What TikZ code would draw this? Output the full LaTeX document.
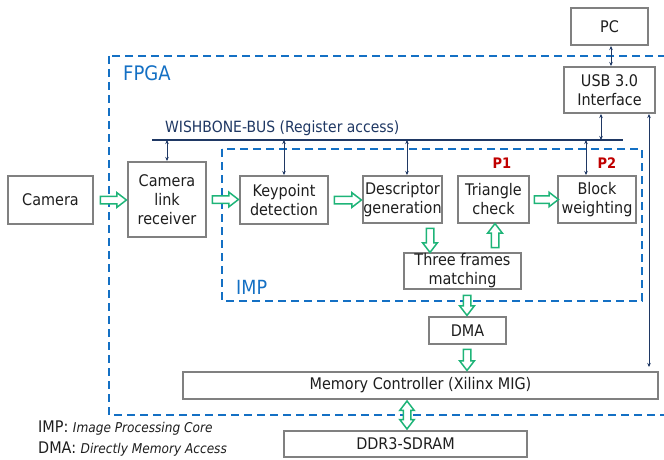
\documentclass[tikz,border=0pt]{standalone}
\usepackage{fontspec}
\setmainfont{DejaVu Sans}[FakeStretch=0.9]
\usetikzlibrary{calc,shapes.arrows,arrows.meta}
\definecolor{boxgray}{RGB}{128,128,128}
\definecolor{navy}{RGB}{31,56,100}
\definecolor{fblue}{RGB}{20,112,196}
\definecolor{agreen}{RGB}{30,180,120}
\definecolor{pred}{RGB}{192,0,0}
\definecolor{txt}{RGB}{30,30,30}
\newcommand\blockarrow[3][single arrow]{%
  \path let \p1=(#2), \p2=(#3), \n1={veclen(\x2-\x1,\y2-\y1)}, \n2={atan2(\y2-\y1,\x2-\x1)} in
    node[barr, #1, minimum height=\n1, rotate=\n2] at ($(\p1)!0.5!(\p2)$) {};}
\begin{document}
\begin{tikzpicture}[x=1pt,y=-1pt,
  box/.style={draw=boxgray, line width=2pt, fill=white, inner sep=0pt, align=center, text=txt,
    font=\fontsize{16}{19}\selectfont},
  barr/.style={draw=agreen, fill=white, line width=1.5pt, inner xsep=0pt, inner ysep=3pt, outer sep=0pt,
    single arrow head extend=3.5pt, single arrow tip angle=75,
    double arrow head extend=3.5pt, double arrow tip angle=75},
  thin/.style={draw=navy, line width=0.8pt, {Stealth[length=4pt,width=3.5pt]}-{Stealth[length=4pt,width=3.5pt]}},
  region/.style={draw=fblue, line width=2pt, dash pattern=on 8pt off 5pt},
  regionlabel/.style={text=fblue, anchor=west, inner sep=0pt, font=\fontsize{20}{24}\selectfont},
  plabel/.style={text=pred, inner sep=0pt, font=\fontsize{14.5}{17}\selectfont\bfseries},
  legend/.style={anchor=west, inner sep=0pt, text=txt, font=\fontsize{16}{19}\selectfont}
]
\useasboundingbox (0,0) rectangle (664,460);
% regions
\draw[region] (109,56) rectangle (672,415);
\draw[region] (222,149) rectangle (642,301);
\node[regionlabel] (fpgalbl) at (123,73) {FPGA};
\node[regionlabel, font=\fontsize{19.5}{22}\selectfont] (implbl) at (236,287) {IMP};
% bus
\coordinate (bus) at (152,140);
\coordinate (busE) at (623,140);
\draw[navy, line width=2.5pt] (bus) -- (busE);
\node[anchor=west, inner sep=0pt, text=navy, font=\fontsize{15.5}{18}\selectfont] (buslbl) at (165,128) {WISHBONE-BUS (Register access)};
% boxes
\node[box, minimum width=77pt, minimum height=37pt] (pc) at (609.5,26.5) {PC};
\node[box, minimum width=91pt, minimum height=46pt] (usb) at (609.5,90) {USB 3.0\\Interface};
\node[box, minimum width=85pt, minimum height=48pt] (cam) at (50.5,200) {Camera};
\node[box, minimum width=78pt, minimum height=75pt] (cl) at (167,199.5) {Camera\\link\\receiver};
\node[box, minimum width=88pt, minimum height=48pt] (kp) at (284,200) {Keypoint\\detection};
\node[box, minimum width=79pt, minimum height=47pt] (desc) at (402.5,199.5) {Descriptor\\generation};
\node[box, minimum width=71pt, minimum height=47pt] (tri) at (493.5,199.5) {Triangle\\check};
\node[box, minimum width=78pt, minimum height=47pt] (blk) at (597,199.5) {Block\\weighting};
\node[box, minimum width=117pt, minimum height=36pt] (tfm) at (462.5,271) {Three frames\\matching};
\node[box, minimum width=77pt, minimum height=27pt] (dma) at (467.5,330.5) {DMA};
\node[box, minimum width=475pt, minimum height=27pt] (mem) at (420.5,385.5) {Memory Controller (Xilinx MIG)};
\node[box, minimum width=243pt, minimum height=26pt] (ddr) at (405.5,444) {DDR3-SDRAM};
% P labels
\node[plabel] (p1) at (502,163) {P1};
\node[plabel] (p2) at (607,163) {P2};
% thin arrows
\draw[thin] ($(pc.south)+(1.5,0)$) -- ($(usb.north)+(1.5,0)$);
\draw[thin] ($(usb.south)+(-8.5,0)$) -- ($(usb.south |- bus)+(-8.5,0)$);
\draw[thin] ($(blk.north |- bus)+(-11,0)$) -- ($(blk.north)+(-11,0)$);
\draw[thin] ($(desc.north |- bus)+(4.5,0)$) -- ($(desc.north)+(4.5,0)$);
\draw[thin] (kp.north |- bus) -- (kp.north);
\draw[thin] (cl.north |- bus) -- (cl.north);
\draw[thin] ($(usb.south)+(39.5,0)$) -- ($(usb.south |- mem.north)+(39.5,-4)$);
% block arrows
\blockarrow{$(cam.east)+(4,0)$}{$(cam.east -| cl.west)+(-3,0)$}
\blockarrow{$(cl.east)+(3,0)$}{$(cl.east -| kp.west)+(-3,0)$}
\blockarrow{$(kp.east)+(3,0)$}{$(kp.east -| desc.west)+(-3,0)$}
\blockarrow{$(desc.south)+(27.5,2)$}{$(tfm.north)+(-32.5,-2)$}
\blockarrow{$(tfm.north)+(32.5,-2)$}{$(tri.south)+(1.5,2)$}
\blockarrow{$(tri.east)+(2,0)$}{$(tri.east -| blk.west)+(-1,0)$}
\blockarrow{$(tfm.south)+(4.5,3)$}{$(dma.north)+(-0.5,-3)$}
\blockarrow{$(dma.south)+(-0.5,2)$}{$(dma.south |- mem.north)+(-0.5,-3)$}
\blockarrow[double arrow]{$(mem.south -| ddr.north)+(1.5,1)$}{$(ddr.north)+(1.5,-1)$}
% legend
\node[legend] (leg1) at (38,428) {IMP: {\fontsize{13.5}{16}\selectfont\itshape Image Processing Core}};
\node[legend] (leg2) at (38,449) {DMA: {\fontsize{13.5}{16}\selectfont\itshape Directly Memory Access}};
\end{tikzpicture}
\end{document}
